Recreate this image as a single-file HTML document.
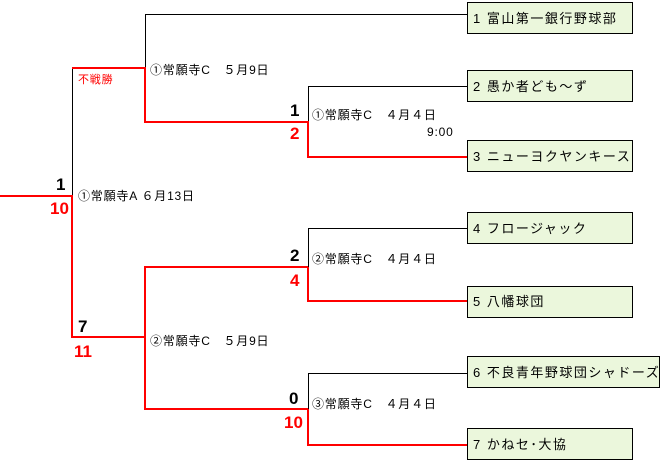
<!DOCTYPE html>
<html><head><meta charset="utf-8"><style>
html,body{margin:0;padding:0;background:#fff;width:660px;height:475px;overflow:hidden}
text{font-family:"Liberation Sans","Noto Sans CJK JP",sans-serif;font-size:12px;fill:#000;letter-spacing:0.8px}
.bx{font-size:13px;letter-spacing:1.5px}
.b{font-weight:bold;font-size:17px;letter-spacing:0}
.r{fill:#f00}
</style></head><body>
<svg width="660" height="475" xmlns="http://www.w3.org/2000/svg">
<g fill="#ebf7dc" stroke="#000" stroke-width="1">
<rect x="467.5" y="2.5" width="165" height="31"/>
<rect x="467.5" y="70.5" width="165" height="31"/>
<rect x="467.5" y="140.5" width="165" height="31"/>
<rect x="467.5" y="212.5" width="165" height="31"/>
<rect x="467.5" y="286.5" width="165" height="31"/>
<rect x="467.5" y="356.5" width="192" height="31"/>
<rect x="467.5" y="428.5" width="165" height="31"/>
</g>
<g fill="none" stroke="#000" stroke-width="1">
<polyline points="467,14.5 145.5,14.5 145.5,68"/>
<polyline points="467,86.5 308.5,86.5 308.5,122"/>
<polyline points="72.5,68 72.5,196"/>
<polyline points="467,228.5 308.5,228.5 308.5,267"/>
<polyline points="467,373.5 308.5,373.5 308.5,409"/>
</g>
<g fill="none" stroke="#f00" stroke-width="2">
<polyline points="72,68 145,68 145,122 308,122 308,157 467,157"/>
<polyline points="0,196 72,196 72,337 145,337"/>
<polyline points="308,267 145,267 145,409 308,409"/>
<polyline points="308,267 308,301 467,301"/>
<polyline points="308,409 308,445 467,445"/>
</g>
<text x="473" y="23" class="bx">1 富山第一銀行野球部</text>
<text x="473" y="91" class="bx">2 愚か者ども～ず</text>
<text x="473" y="161" class="bx">3 ニューヨクヤンキース</text>
<text x="473" y="233" class="bx">4 フロージャック</text>
<text x="473" y="306" class="bx">5 八幡球団</text>
<text x="473" y="377" class="bx">6 不良青年野球団シャドーズ</text>
<text x="473" y="449" class="bx">7 かねセ･大協</text>
<text x="150" y="74">①常願寺C　５月9日</text>
<text x="78" y="83" class="r" style="font-size:11px">不戦勝</text>
<text x="312" y="119">①常願寺C　４月４日</text>
<text x="427" y="136">9:00</text>
<text x="78" y="200">①常願寺A ６月13日</text>
<text x="312" y="263">②常願寺C　４月４日</text>
<text x="150" y="345">②常願寺C　５月9日</text>
<text x="312" y="408">③常願寺C　４月４日</text>
<text x="290" y="116" class="b">1</text>
<text x="290" y="139" class="b r">2</text>
<text x="56" y="190" class="b">1</text>
<text x="50" y="214" class="b r">10</text>
<text x="290" y="261" class="b">2</text>
<text x="290" y="286" class="b r">4</text>
<text x="78" y="332" class="b">7</text>
<text x="74" y="357" class="b r">11</text>
<text x="289" y="404" class="b">0</text>
<text x="284" y="428" class="b r">10</text>
</svg>
</body></html>
